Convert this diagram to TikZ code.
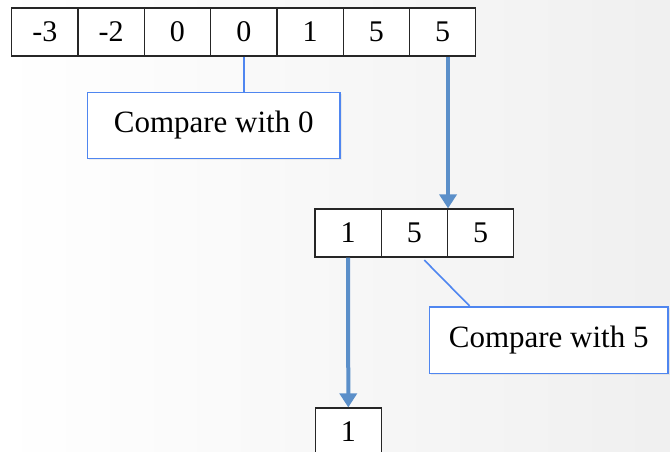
\documentclass[tikz,border=0pt]{standalone}
\usepackage{fontspec}
\setmainfont{Liberation Serif}
\usetikzlibrary{arrows.meta,shadows}
\definecolor{callblue}{HTML}{4F86F0}
\definecolor{arrblue}{HTML}{5B8FC9}
\tikzset{
  cell/.style={draw=black!85, line width=1.2pt, fill=white, minimum width=66.3pt, minimum height=48pt, inner sep=0pt, font=\fontsize{30}{32}\selectfont},
  callout/.style={draw=callblue, line width=1.6pt, fill=white, inner sep=0pt, font=\fontsize{31}{33}\selectfont, drop shadow={opacity=0.12, shadow xshift=1.5pt, shadow yshift=-1.5pt}},
  thinlink/.style={draw=callblue, line width=1.6pt},
  bigarrow/.style={draw=arrblue, line width=4pt, -{Triangle[width=17pt,length=14pt]}}
}
\begin{document}
\begin{tikzpicture}[x=1pt,y=-1pt]
\shade[left color=white, right color=black!6] (0,0) rectangle (670,452);
\useasboundingbox (0,0) rectangle (670,452);
% top array
\foreach \v [count=\i] in {-3,-2,0,0,1,5,5} {
  \node[cell] (t\i) at ({11.7+66.3*(\i-0.5)},32) {\raisebox{-3pt}{\v}};
}
% second array
\foreach \v [count=\i] in {1,5,5} {
  \node[cell] (s\i) at ({315+66.2*(\i-0.5)},233) {\raisebox{-3pt}{\v}};
}
% bottom cell
\node[cell] (b1) at (348.3,432) {\raisebox{-3pt}{1}};
% callouts
\node[callout, minimum width=252.7pt, minimum height=65.6pt] (c0) at (213.7,125.5) {\raisebox{-5pt}{Compare with 0}};
\node[callout, minimum width=238.7pt, minimum height=66.6pt] (c5) at (548.7,340) {\raisebox{-4pt}{Compare with 5}};
% connectors
\draw[thinlink] (t4.south) -- (t4.south |- c0.north);
\coordinate (p1) at ([xshift=10pt,yshift=-2.5pt]s2.south);
\coordinate (p2) at ([xshift=41pt]c5.north west);
\draw[thinlink] (p1) -- (p2);
\draw[bigarrow] (s2.north east |- t7.south) -- (s2.north east);
\draw[bigarrow] (s1.south) -- (b1.north);
\end{tikzpicture}
\end{document}
